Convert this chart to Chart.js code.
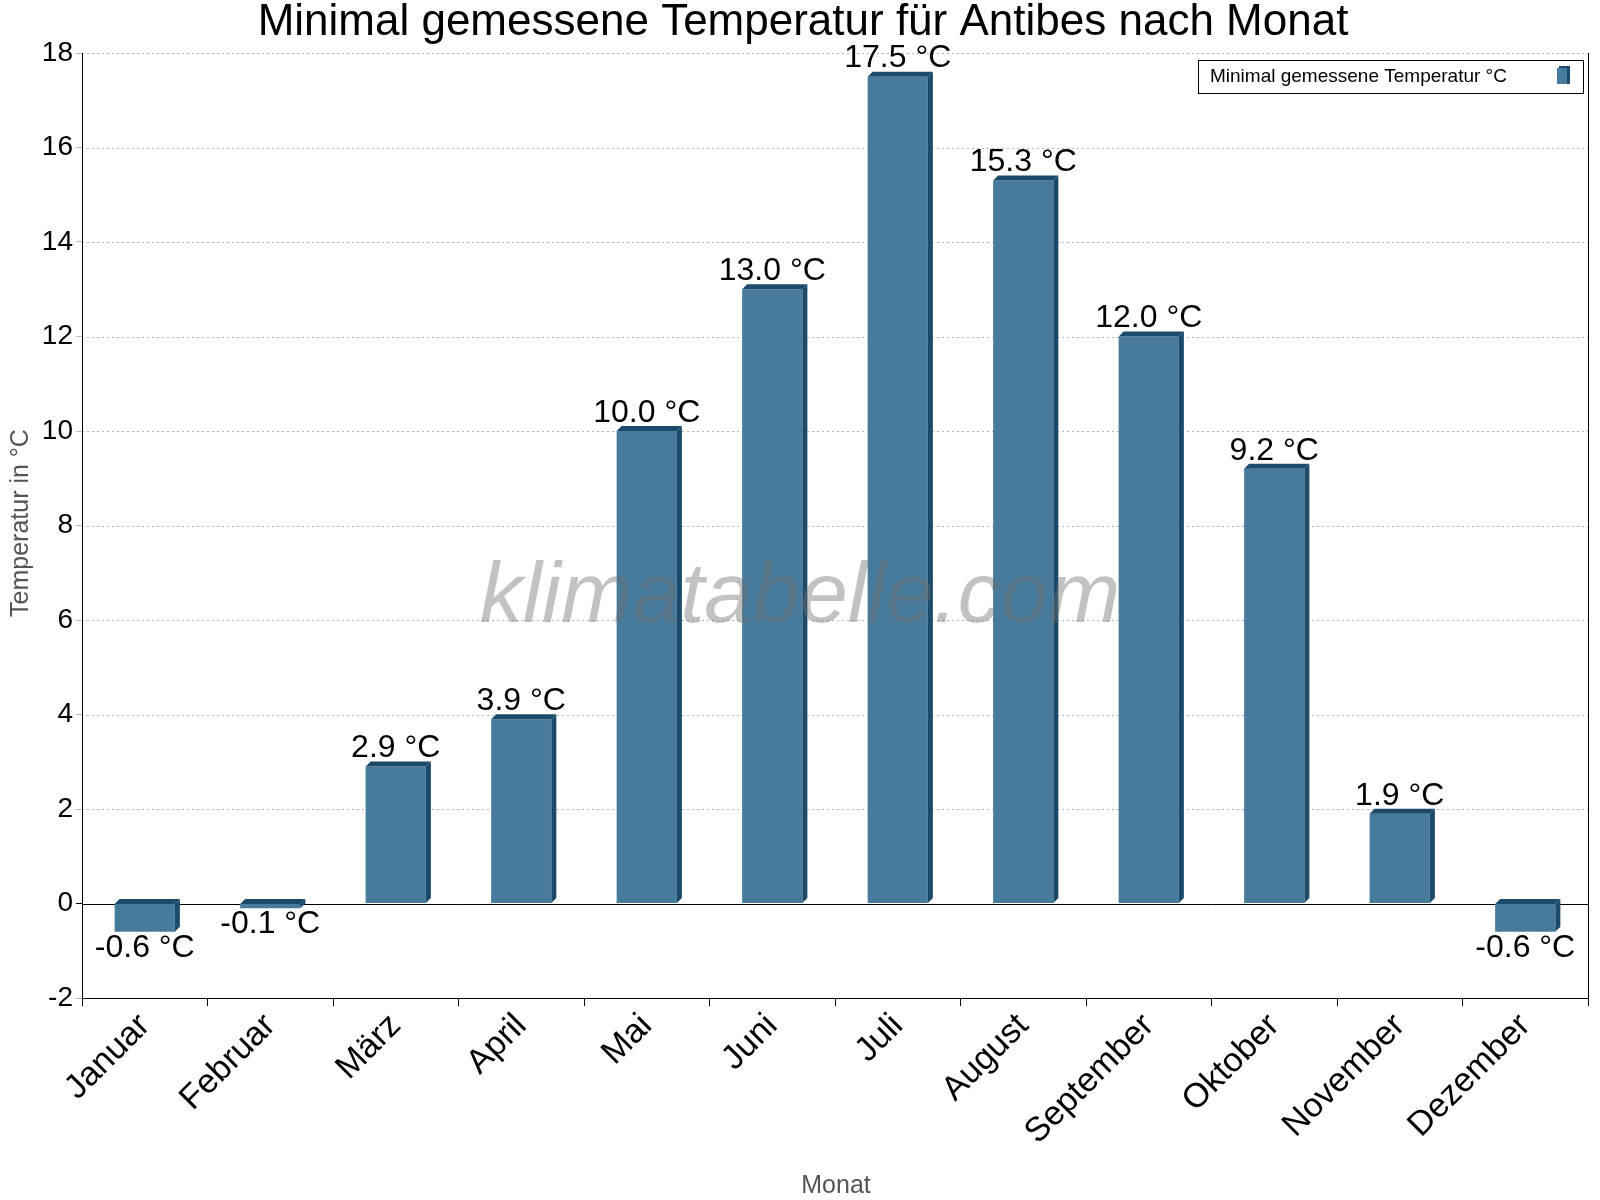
<!DOCTYPE html>
<html lang="de">
<head>
<meta charset="UTF-8">
<title>Minimal gemessene Temperatur für Antibes</title>
<script src="https://cdn.jsdelivr.net/npm/chart.js"></script>
<style>
  body { margin: 0; background: #fff; }
  #wrap { width: 1600px; height: 1200px; }
</style>
</head>
<body>
<div id="wrap"><canvas id="c" width="1600" height="1200"></canvas></div>
<script>
const months = ['Januar', 'Februar', 'März', 'April', 'Mai', 'Juni', 'Juli', 'August', 'September', 'Oktober', 'November', 'Dezember'];
const minTemps = [-0.6, -0.1, 2.9, 3.9, 10.0, 13.0, 17.5, 15.3, 12.0, 9.2, 1.9, -0.6];
const seriesName = 'Minimal gemessene Temperatur °C';
const titleText = 'Minimal gemessene Temperatur für Antibes nach Monat';

const FONT = '"Liberation Sans", Arial, sans-serif';

// 3D side/top faces, value labels, title, legend, watermark
const decor = {
  id: 'decor',
  afterDatasetsDraw(chart) {
    const ctx = chart.ctx, a = chart.chartArea;
    const meta = chart.getDatasetMeta(0);
    ctx.save();
    meta.data.forEach((bar, i) => {
      const w = bar.width, l = bar.x - w / 2, r = bar.x + w / 2;
      const top = Math.min(bar.y, bar.base), bot = Math.max(bar.y, bar.base);
      const d = 5;
      ctx.fillStyle = '#1c4a6b';
      ctx.beginPath();
      ctx.moveTo(r, top); ctx.lineTo(r + d, top - d); ctx.lineTo(r + d, bot - d); ctx.lineTo(r, bot);
      ctx.closePath(); ctx.fill();
      ctx.beginPath();
      ctx.moveTo(l, top); ctx.lineTo(l + d, top - d); ctx.lineTo(r + d, top - d); ctx.lineTo(r, top);
      ctx.closePath(); ctx.fill();
      const v = minTemps[i];
      ctx.fillStyle = '#000';
      ctx.font = '32px ' + FONT;
      ctx.textAlign = 'center';
      if (v >= 0) {
        ctx.textBaseline = 'bottom';
        ctx.fillText(v.toFixed(1) + ' °C', bar.x, top - 2);
      } else {
        ctx.textBaseline = 'top';
        ctx.fillText(v.toFixed(1) + ' °C', bar.x, bot);
      }
    });
    // watermark over bars
    ctx.font = 'italic 86px ' + FONT;
    ctx.fillStyle = 'rgba(110,110,110,0.42)';
    ctx.textAlign = 'center';
    ctx.textBaseline = 'middle';
    ctx.fillText('klimatabelle.com', 800, 598);
    // title
    ctx.fillStyle = '#000';
    ctx.font = '44px ' + FONT;
    ctx.fillText(titleText, 803, 23);
    // axis titles
    ctx.fillStyle = '#555';
    ctx.font = '25px ' + FONT;
    ctx.fillText('Monat', 836, 1186);
    ctx.save();
    ctx.translate(21, 523);
    ctx.rotate(-Math.PI / 2);
    ctx.fillText('Temperatur in °C', 0, 0);
    ctx.restore();
    // legend
    ctx.fillStyle = '#fff';
    ctx.fillRect(1198, 60, 385, 33);
    ctx.strokeStyle = '#000';
    ctx.lineWidth = 1;
    ctx.strokeRect(1198.5, 60.5, 385, 33);
    ctx.fillStyle = '#000';
    ctx.font = '19px ' + FONT;
    ctx.textAlign = 'left';
    ctx.fillText(seriesName, 1210, 77);
    ctx.fillStyle = '#467b9c';
    ctx.fillRect(1557, 68, 10, 16);
    ctx.fillStyle = '#1c4a6b';
    ctx.fillRect(1567, 66, 3, 18);
    ctx.fillRect(1559, 66, 10, 2);
    ctx.restore();
  }
};

new Chart(document.getElementById('c'), {
  type: 'bar',
  data: {
    labels: months,
    datasets: [{
      label: seriesName,
      data: minTemps,
      backgroundColor: '#467b9c',
      borderWidth: 0,
      barPercentage: 0.48,
      categoryPercentage: 1
    }]
  },
  options: {
    responsive: false,
    animation: false,
    layout: { padding: { top: 53, left: 0, right: 12, bottom: 0 } },
    plugins: { legend: { display: false }, tooltip: { enabled: false } },
    scales: {
      x: {
        offset: true,
        afterFit(s) { s.height = 202; },
        grid: { offset: true, drawOnChartArea: false, color: '#000', tickLength: 8, tickWidth: 1 },
        border: { color: '#000' },
        ticks: { color: '#000', font: { family: FONT, size: 34 }, minRotation: 45, maxRotation: 45, padding: 0 }
      },
      y: {
        min: -2, max: 18,
        afterFit(s) { s.width = 82; },
        border: { color: '#000' },
        grid: {
          tickLength: 6,
          color: ctx => ctx.tick && ctx.tick.value === 0 ? '#000' : '#bbbbbb',
          lineWidth: 1
        },
        ticks: { stepSize: 2, color: '#000', font: { family: FONT, size: 28 }, padding: 3 }
      }
    }
  },
  plugins: [decor, {
    id: 'dotgrid',
    beforeDraw(chart) {
      const a = chart.chartArea, ctx = chart.ctx;
      chart.scales.y.options.grid.drawOnChartArea = false;
      ctx.save();
      ctx.strokeStyle = '#b5b5b5';
      ctx.setLineDash([2, 3]);
      chart.scales.y.ticks.forEach(t => {
        if (t.value === 0 || t.value === -2) return;
        const y = Math.round(chart.scales.y.getPixelForValue(t.value)) + 0.5;
        ctx.beginPath(); ctx.moveTo(a.left, y); ctx.lineTo(a.right, y); ctx.stroke();
      });
      ctx.setLineDash([]);
      ctx.strokeStyle = '#000';
      const y0 = Math.round(chart.scales.y.getPixelForValue(0)) + 0.5;
      ctx.beginPath(); ctx.moveTo(a.left, y0); ctx.lineTo(a.right, y0); ctx.stroke();
      ctx.beginPath(); ctx.moveTo(a.right + 0.5, a.top); ctx.lineTo(a.right + 0.5, a.bottom); ctx.stroke();
      ctx.restore();
    }
  }]
});
</script>
</body>
</html>
